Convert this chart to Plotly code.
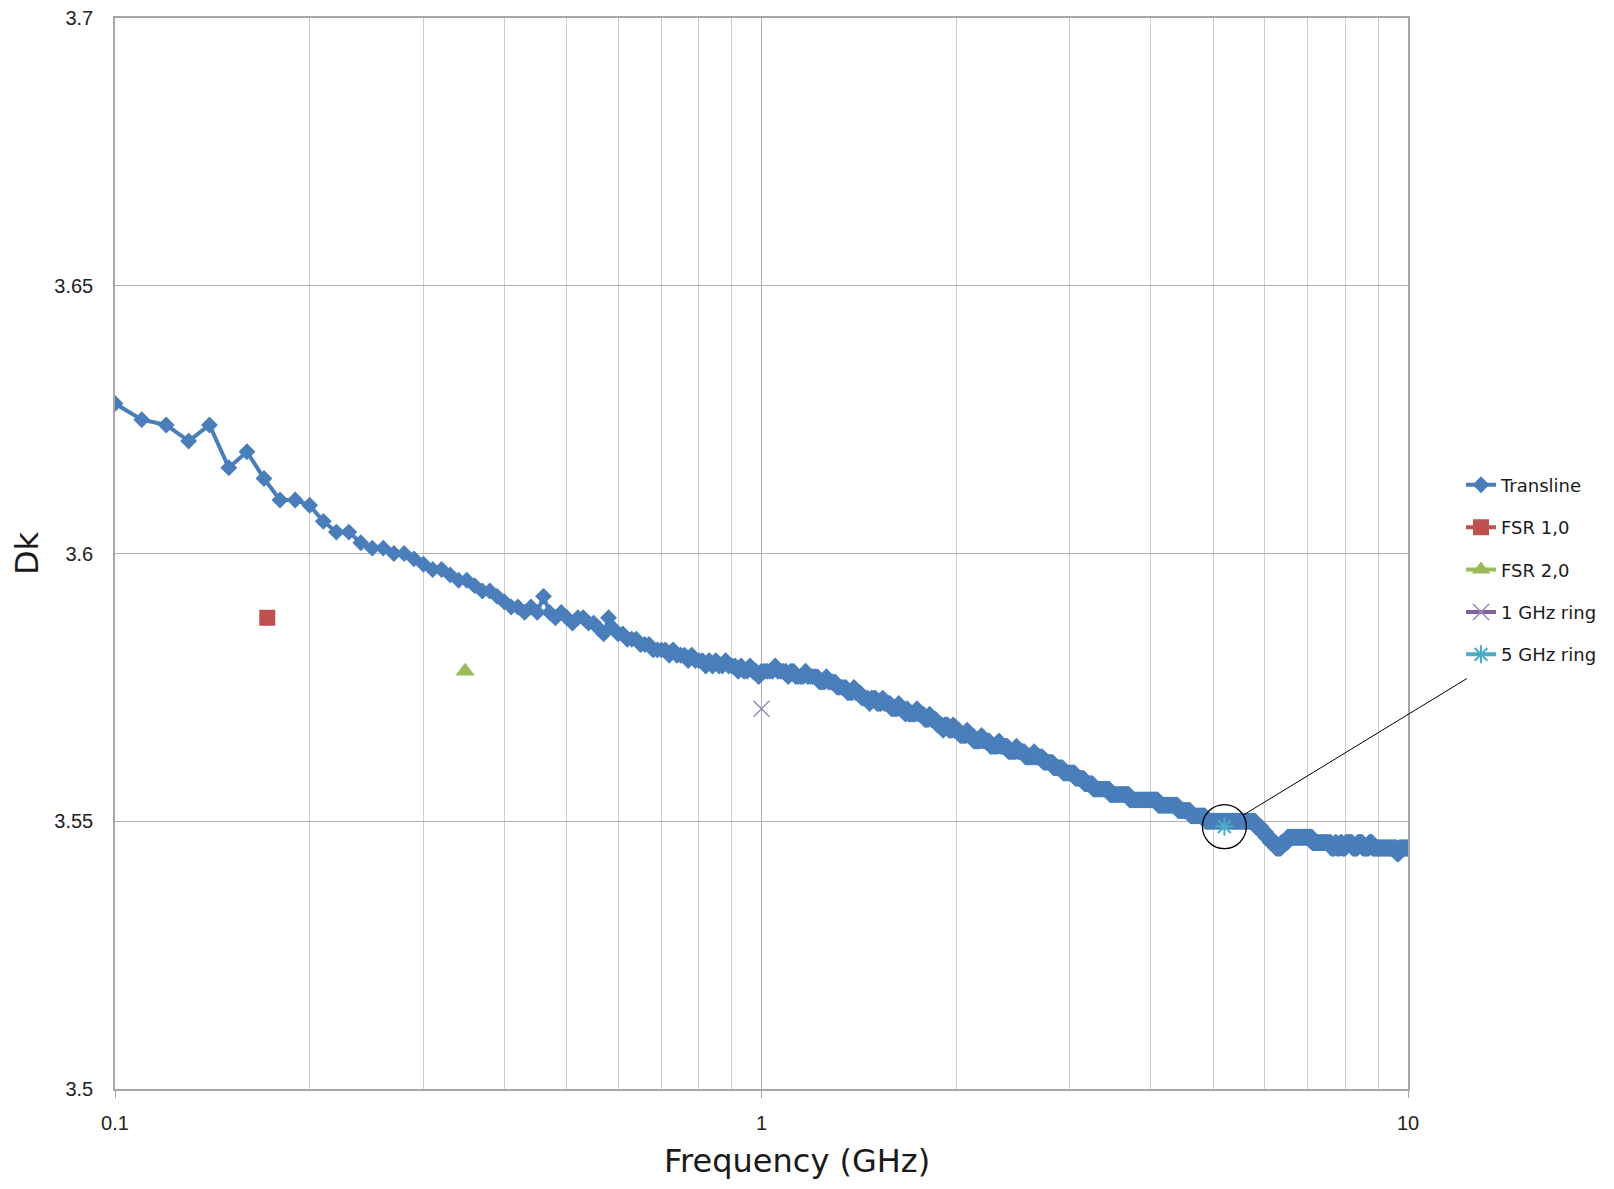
import numpy as np
import plotly.graph_objects as go

# ---------------- data ----------------
# Transline sweep: 0.10 .. 10.00 GHz, 0.01 GHz step (991 points)
transline_freq = np.arange(10, 1001) / 100.0

# Dk read point-by-point for 0.10 .. 1.00 GHz
transline_dk_low = [
    3.628, 3.625, 3.624, 3.621, 3.624, 3.616, 3.619, 3.614, 3.610, 3.610,
    3.609, 3.606, 3.604, 3.604, 3.602, 3.601, 3.601, 3.600, 3.600, 3.599,
    3.598, 3.597, 3.597, 3.596, 3.595, 3.595, 3.594, 3.593, 3.593, 3.592,
    3.591, 3.590, 3.590, 3.589, 3.590, 3.589, 3.592, 3.589, 3.588, 3.589,
    3.588, 3.587, 3.588, 3.588, 3.587, 3.587, 3.586, 3.585, 3.588, 3.586,
    3.585, 3.585, 3.584, 3.584, 3.584, 3.583, 3.583, 3.583, 3.582, 3.582,
    3.582, 3.582, 3.581, 3.582, 3.581, 3.581, 3.581, 3.580, 3.581, 3.580,
    3.580, 3.580, 3.579, 3.580, 3.579, 3.580, 3.579, 3.579, 3.580, 3.579,
    3.579, 3.579, 3.578, 3.579, 3.578, 3.578, 3.579, 3.578, 3.578, 3.577,
    3.578,
]

# Dk for 1.01 .. 10.00 GHz as (value, number of consecutive sweep points)
transline_dk_runs = [
    (3.578, 4), (3.579, 1), (3.578, 4), (3.577, 1), (3.578, 2),
    (3.577, 4), (3.578, 1), (3.577, 5),
    (3.576, 3), (3.577, 1), (3.576, 4),
    (3.575, 5),
    (3.574, 3), (3.575, 1), (3.574, 3),
    (3.573, 4), (3.572, 1), (3.573, 3),
    (3.572, 3), (3.573, 1), (3.572, 4),
    (3.571, 4), (3.572, 1), (3.571, 3), (3.570, 1), (3.571, 1),
    (3.570, 5), (3.571, 1), (3.570, 4),
    (3.569, 3), (3.570, 1), (3.569, 4),
    (3.568, 4), (3.567, 1), (3.568, 3),
    (3.567, 3), (3.568, 1), (3.567, 4),
    (3.566, 5), (3.567, 1), (3.566, 4),
    (3.565, 6), (3.566, 1), (3.565, 6),
    (3.564, 7), (3.565, 1), (3.564, 7),
    (3.563, 7), (3.564, 1), (3.563, 7),
    (3.562, 8), (3.563, 1), (3.562, 8),
    (3.561, 10), (3.560, 10), (3.559, 13),
    (3.558, 10), (3.557, 10), (3.556, 20), (3.555, 25), (3.554, 40),
    (3.553, 30), (3.552, 20), (3.551, 25), (3.550, 95), (3.549, 12),
    (3.548, 10), (3.547, 10), (3.546, 12), (3.545, 12), (3.546, 14),
    (3.547, 60), (3.546, 50),
    (3.545, 10), (3.546, 5), (3.545, 10), (3.546, 5), (3.545, 10),
    (3.546, 20), (3.545, 15), (3.546, 15),
    (3.545, 20), (3.546, 10), (3.545, 20),
    (3.545, 60), (3.544, 8), (3.545, 32),
]

fsr10_freq = [0.172]
fsr10_dk = [3.588]
fsr20_freq = [0.348]
fsr20_dk = [3.578]
ring1_freq = [1.0]
ring1_dk = [3.571]
ring5_freq = [5.2]
ring5_dk = [3.549]

x_tick_vals = [0.1, 1, 10]
x_tick_text = ["0.1", "1", "10"]
x_minor_vals = [0.2, 0.3, 0.4, 0.5, 0.6, 0.7, 0.8, 0.9, 2, 3, 4, 5, 6, 7, 8, 9]
y_tick_vals = [3.5, 3.55, 3.6, 3.65, 3.7]
y_tick_text = ["3.5", "3.55", "3.6", "3.65", "3.7"]

# ---------------- build ----------------
transline_dk = list(transline_dk_low)
for v, n in transline_dk_runs:
    transline_dk.extend([v] * n)

BLUE = "#4A7EBB"
RED = "#C0504D"
GREEN = "#9BBB59"
PURPLE = "#8064A2"
CYAN = "#4BACC6"
TXT = "#1a1a1a"
FONT = "DejaVu Sans"

fig = go.Figure()
fig.add_trace(go.Scatter(
    x=transline_freq, y=transline_dk, name="Transline", mode="lines+markers",
    line=dict(color=BLUE, width=4),
    marker=dict(symbol="diamond", size=13, color=BLUE),
    legendgroup="a"))
fig.add_trace(go.Scatter(
    x=fsr10_freq, y=fsr10_dk, name="FSR 1,0", mode="lines+markers",
    line=dict(color=RED, width=4),
    marker=dict(symbol="square", size=16, color=RED),
    legendgroup="b"))
fig.add_trace(go.Scatter(
    x=fsr20_freq, y=fsr20_dk, name="FSR 2,0", mode="lines+markers",
    line=dict(color=GREEN, width=4),
    marker=dict(symbol="triangle-up", size=17, color=GREEN),
    legendgroup="c"))
fig.add_trace(go.Scatter(
    x=ring1_freq, y=ring1_dk, name="1 GHz ring", mode="lines+markers",
    line=dict(color=PURPLE, width=4),
    marker=dict(symbol="x-thin-open", size=16, color="#9A86C2",
                line=dict(width=1.5, color="#9A86C2")),
    legendgroup="d"))
fig.add_trace(go.Scatter(
    x=ring5_freq, y=ring5_dk, name="5 GHz ring", mode="lines+markers",
    line=dict(color=CYAN, width=4),
    marker=dict(symbol="asterisk-open", size=15, color=CYAN,
                line=dict(width=2, color=CYAN)),
    legendgroup="e"))
# highlight circle around the 5 GHz ring point
fig.add_trace(go.Scatter(
    x=ring5_freq, y=ring5_dk, mode="markers", showlegend=False, hoverinfo="skip",
    marker=dict(symbol="circle-open", size=44, color="black",
                line=dict(width=1.3, color="black"))))

# leader line from the circle towards the legend
fig.add_annotation(
    x=np.log10(ring5_freq[0]), y=ring5_dk[0], xref="x", yref="y",
    text="", showarrow=True, arrowhead=0, arrowwidth=1, arrowcolor="black",
    ax=244, ay=-149, standoff=22)

# x-axis title (placed like the original, slightly right of centre)
fig.add_annotation(
    text="Frequency (GHz)", xref="paper", yref="paper", x=0.5275, y=-0.0676,
    xanchor="center", yanchor="middle", showarrow=False,
    font=dict(family=FONT, size=32, color=TXT))

fig.update_layout(
    width=1614, height=1189,
    margin=dict(l=107, r=214, t=10, b=108),
    plot_bgcolor="white", paper_bgcolor="white",
    showlegend=True,
    legend=dict(x=1.041, y=0.485, xanchor="left", yanchor="middle",
                font=dict(family=FONT, size=18, color=TXT),
                tracegroupgap=16, bgcolor="rgba(0,0,0,0)"),
    xaxis=dict(
        type="log", range=[-1, 1], automargin=False,
        tickvals=x_tick_vals, ticktext=x_tick_text,
        ticks="outside", ticklen=7, tickcolor="#A6A6A6", tickwidth=1.3,
        ticklabelstandoff=8, ticklabeloverflow="allow",
        tickfont=dict(family="Liberation Sans", size=20, color="#222"),
        showgrid=True, gridcolor="#B0B0B0", gridwidth=1.3,
        minor=dict(tickvals=x_minor_vals, showgrid=True, gridcolor="#CCCCCC",
                   gridwidth=1.3, ticks=""),
        showline=True, linecolor="#A6A6A6", linewidth=1.5, mirror=True,
        zeroline=False),
    yaxis=dict(
        range=[3.5, 3.7], automargin=False,
        tickvals=y_tick_vals, ticktext=y_tick_text,
        ticks="", ticklabelstandoff=16, ticklabeloverflow="allow",
        tickfont=dict(family="Liberation Sans", size=20, color="#222"),
        showgrid=True, gridcolor="#B0B0B0", gridwidth=1.3,
        showline=True, linecolor="#A6A6A6", linewidth=1.5, mirror=True,
        zeroline=False,
        title=dict(text="Dk", font=dict(family=FONT, size=32, color=TXT),
                   standoff=18)),
)

fig.write_html("out.html")
